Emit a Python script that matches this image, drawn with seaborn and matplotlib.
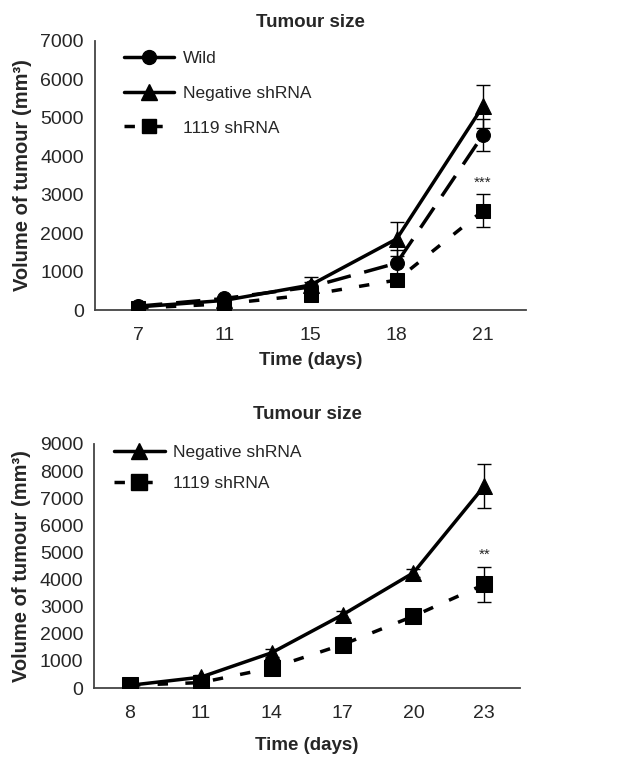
import numpy as np
import matplotlib
matplotlib.use('Agg')
import matplotlib.pyplot as plt
import seaborn as sns
from matplotlib.lines import Line2D

sns.set_style('white')
plt.rcParams['font.family'] = ['Liberation Sans', 'DejaVu Sans']

# ---- data: top panel ----
days_a = ['7', '11', '15', '18', '21']
wild_a = [100, 300, 600, 1220, 4550]
wild_a_err = [40, 60, 120, 350, 420]
neg_a = [80, 250, 650, 1850, 5300]
neg_a_err = [40, 60, 200, 450, 560]
kd_a = [50, 160, 400, 780, 2580]
kd_a_err = [30, 50, 100, 150, 430]

# ---- data: bottom panel ----
days_b = ['8', '11', '14', '17', '20', '23']
neg_b = [100, 400, 1300, 2700, 4250, 7450]
neg_b_err = [30, 80, 150, 150, 150, 800]
kd_b = [100, 200, 740, 1600, 2650, 3820]
kd_b_err = [30, 60, 120, 150, 150, 650]

FS = 14
LW = 2.5
KD_DASH = (3, 5)

fig = plt.figure(figsize=(6.21, 7.61), dpi=100)
ax1 = fig.add_axes([0.153, 0.5926, 0.694, 0.3536])
ax2 = fig.add_axes([0.152, 0.0959, 0.685, 0.3207])

styles = {
    'wild': dict(marker='o', ms=10, dashes=(7, 4)),
    'neg': dict(marker='^', ms=11, dashes=None),
    'kd': dict(marker='s', ms=10, dashes=KD_DASH),
}


def draw(ax, vals, err, kind, ms=None):
    st = styles[kind]
    pos = np.arange(len(vals))
    ax.errorbar(pos, vals, yerr=err, fmt='none', ecolor='black',
                elinewidth=1.0, capsize=5, capthick=1.0, zorder=2)
    sns.lineplot(x=pos, y=vals, color='black', marker=st['marker'],
                 markersize=ms or st['ms'], markeredgecolor='black',
                 linewidth=LW, ax=ax, zorder=3)
    ln = ax.get_lines()[-1]
    if st['dashes'] is not None:
        ln.set_dashes(st['dashes'])


def style_axis(ax, labels, ymax, ystep, title_pad, xlabel_pad):
    n = len(labels)
    ax.set_xlim(-0.5, n - 0.5)
    ax.set_ylim(0, ymax)
    ax.set_xticks(np.arange(n))
    ax.set_xticklabels(labels)
    ax.set_xticks(np.arange(n) + 0.5, minor=True)
    ax.set_yticks(np.arange(0, ymax + 1, ystep))
    ax.tick_params(axis='x', which='major', length=0, pad=12, labelsize=FS)
    ax.tick_params(axis='x', which='minor', length=6, width=1.2,
                   direction='out', color='#444444')
    ax.tick_params(axis='y', length=4, width=1.2, direction='out',
                   color='#444444', labelsize=FS, pad=4)
    for s in ['top', 'right']:
        ax.spines[s].set_visible(False)
    for s in ['left', 'bottom']:
        ax.spines[s].set_color('#444444')
        ax.spines[s].set_linewidth(1.3)
    ax.set_xlabel('Time (days)', fontsize=13.5, fontweight='bold',
                  labelpad=xlabel_pad)
    ax.set_ylabel('Volume of tumour (mm³)', fontsize=14.5, fontweight='bold',
                  labelpad=6)
    ax.set_title('Tumour size', fontsize=13.5, fontweight='bold', pad=title_pad)


# ---- top panel ----
draw(ax1, wild_a, wild_a_err, 'wild')
draw(ax1, neg_a, neg_a_err, 'neg')
draw(ax1, kd_a, kd_a_err, 'kd')
style_axis(ax1, days_a, 7000, 1000, 10, 6)
ax1.text(len(days_a) - 1, kd_a[-1] + kd_a_err[-1] + 120, '***',
         ha='center', va='bottom', fontsize=11)

h1 = [
    Line2D([], [], color='black', lw=LW, marker='o', ms=10),
    Line2D([], [], color='black', lw=LW, marker='^', ms=11),
    Line2D([], [], color='black', lw=LW, marker='s', ms=10, dashes=KD_DASH),
]
ax1.legend(h1, ['Wild', 'Negative shRNA', '1119 shRNA'], loc='upper left',
           bbox_to_anchor=(0.03, 1.02), frameon=False, fontsize=12.5,
           handlelength=2.9, handletextpad=0.5, labelspacing=1.12)

# ---- bottom panel ----
draw(ax2, neg_b, neg_b_err, 'neg')
draw(ax2, kd_b, kd_b_err, 'kd', ms=12)
style_axis(ax2, days_b, 9000, 1000, 18, 11)
ax2.text(len(days_b) - 1, kd_b[-1] + kd_b_err[-1] + 180, '**',
         ha='center', va='bottom', fontsize=11)

h2 = [
    Line2D([], [], color='black', lw=LW, marker='^', ms=11),
    Line2D([], [], color='black', lw=LW, marker='s', ms=11, dashes=KD_DASH),
]
ax2.legend(h2, ['Negative shRNA', '1119 shRNA'], loc='upper left',
           bbox_to_anchor=(0.01, 1.06), frameon=False, fontsize=12.5,
           handlelength=2.9, handletextpad=0.5, labelspacing=0.9)

fig.savefig('out.png', dpi=100)
